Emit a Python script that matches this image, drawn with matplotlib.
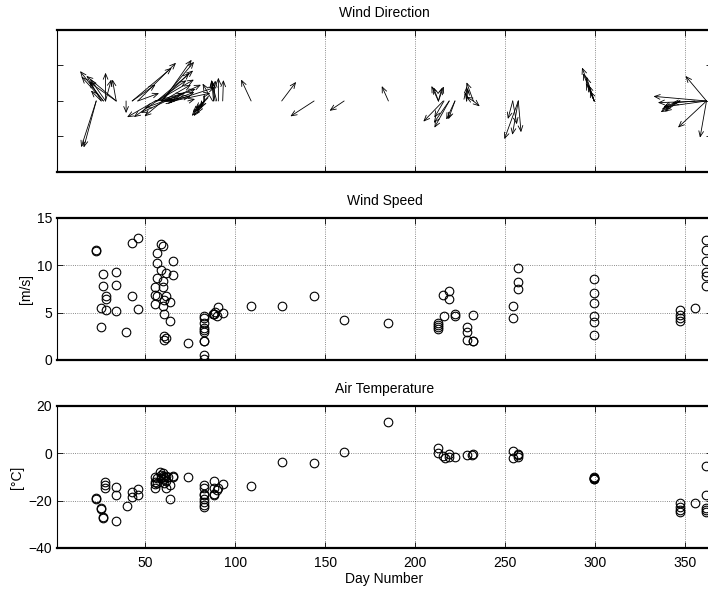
import numpy as np
import matplotlib
matplotlib.use('Agg')
import matplotlib.pyplot as plt

plt.rcParams['font.family'] = ['Liberation Sans', 'DejaVu Sans']
plt.rcParams['font.size'] = 10

#wind observations: day, speed [m/s], direction the arrow points [deg, 0 = up]
wind_day = [22.8, 22.8, 25.6, 25.6, 26.8, 26.8, 28.0, 28.0, 28.0, 33.9, 33.9, 33.9,
            39.4, 42.8, 42.8, 45.9, 45.9,
            55.6, 55.6, 55.6, 56.5, 56.5, 56.5, 56.5, 58.9, 58.9, 59.8, 59.8, 59.8, 59.8,
            60.6, 60.6, 60.6, 60.6, 61.5, 61.7, 61.7, 63.9, 63.9, 65.7, 65.7, 73.7,
            82.9, 82.9, 82.9, 82.9, 82.9, 82.9, 82.9, 82.9, 82.9, 82.9,
            87.5, 88.0, 88.0, 88.9, 89.8, 90.7, 93.1,
            108.9, 125.9, 143.9, 160.6, 185.2,
            213.0, 213.0, 213.0, 213.0, 215.7, 216.1, 219.0, 219.0, 222.2, 222.2,
            228.7, 228.7, 228.7, 232.4, 232.4, 232.4,
            254.3, 254.3, 257.4, 257.4, 257.4,
            299.6, 299.6, 299.6, 299.6, 299.6, 299.6,
            347.2, 347.2, 347.2, 347.2, 355.6,
            362.0, 362.0, 362.0, 362.0, 362.0, 362.0]
wind_speed = [11.5, 11.6, 5.5, 3.5, 9.05, 7.8, 6.75, 6.4, 5.3, 9.3, 7.9, 5.2,
              2.9, 12.3, 6.8, 12.9, 5.4,
              7.75, 6.85, 5.9, 11.3, 10.2, 8.6, 6.7, 12.2, 9.5, 12.0, 8.3, 7.75, 5.7,
              6.3, 4.9, 2.55, 2.1, 2.3, 9.15, 6.7, 6.15, 4.1, 10.45, 9.0, 1.8,
              4.65, 4.4, 3.9, 3.4, 3.2, 2.9, 1.95, 1.95, 0.55, 0.1,
              4.8, 4.9, 4.9, 5.1, 4.6, 5.55, 5.0,
              5.65, 5.7, 6.75, 4.2, 3.9,
              3.95, 3.7, 3.45, 3.25, 6.85, 4.6, 7.3, 6.4, 4.9, 4.65,
              3.45, 3.0, 2.1, 2.0, 2.0, 4.75,
              5.65, 4.45, 9.7, 8.2, 7.5,
              8.5, 7.1, 6.0, 4.65, 4.05, 2.65,
              5.3, 4.75, 4.4, 4.15, 5.5,
              12.7, 11.6, 10.4, 9.3, 8.9, 7.8]
wind_dir = [195, 198, 330, 315, 322, 318, 0, 325, 15, 310, 305, 350,
            180, 50, 55, 45, 70,
            240, 75, 85, 50, 60, 55, 235, 40, 45, 35, 70, 60, 230,
            80, 250, 90, 100, 80, 65, 245, 70, 60, 72, 78, 75,
            220, 215, 225, 210, 220, 230, 205, 215, 200, 200,
            330, 355, 5, 350, 345, 0, 2,
            335, 37, 237, 236, 336,
            335, 20, 340, 15, 224, 210, 209, 215, 205, 200,
            0, 5, 350, 300, 130, 340,
            170, 195, 200, 190, 175,
            340, 338, 342, 335, 340, 338,
            240, 245, 235, 250, 265,
            275, 268, 262, 227, 190, 320]

#air temperature observations
temp_day = [22.8, 22.8, 25.6, 25.6, 26.8, 26.8, 27.8, 27.8, 27.8, 33.9, 33.9, 33.9,
            39.8, 42.8, 42.8, 45.9, 45.9,
            55.6, 55.6, 55.6, 55.6, 56.5, 56.5, 58.3, 59.0, 59.0, 59.8, 59.8, 59.8,
            60.6, 60.6, 61.5, 61.5, 61.7, 62.5, 63.9, 63.9, 65.7, 65.7, 73.7,
            82.9, 82.9, 82.9, 82.9, 82.9, 82.9, 82.9, 82.9,
            88.0, 88.0, 88.0, 88.0, 89.8, 90.7, 93.1,
            108.9, 125.9, 143.9, 160.6, 185.2,
            213.0, 213.0, 215.7, 216.6, 219.0, 219.0, 222.2, 228.7, 231.5, 232.4,
            254.3, 254.3, 257.4, 257.4, 257.4,
            299.6, 299.6, 299.6, 299.6, 299.6,
            347.2, 347.2, 347.2, 347.2, 355.6,
            362.0, 362.0, 362.0, 362.0, 362.0]
temp = [-18.7, -19.4, -23.3, -23.7, -26.9, -27.2, -12.0, -13.4, -14.8, -14.2, -17.7, -28.6,
        -22.3, -16.5, -18.4, -15.1, -17.7,
        -9.9, -12.0, -13.0, -14.8, -10.6, -12.7, -7.8, -9.0, -10.5, -8.5, -11.0, -9.8,
        -10.2, -12.5, -9.5, -11.8, -14.8, -10.0, -19.1, -13.4, -9.6, -9.9, -9.9,
        -13.4, -14.8, -17.0, -17.7, -19.1, -20.5, -21.9, -22.6,
        -11.6, -14.8, -17.0, -17.7, -15.5, -14.8, -13.0,
        -13.7, -3.6, -4.0, 0.4, 13.4,
        2.1, 0.0, -1.2, -2.1, -0.4, -1.4, -1.7, -0.7, -0.7, -0.3,
        1.0, -1.8, -0.3, -1.4, -0.8,
        -10.0, -10.4, -10.8, -11.0, -10.6,
        -21.2, -22.5, -23.8, -24.8, -20.9,
        -5.4, -17.7, -23.3, -24.0, -24.8]

day_ticks = [50, 100, 150, 200, 250, 300, 350]

#arrow components, scaled so that 1 m/s is the same length on screen in x and y
rad = np.deg2rad(wind_dir)
u = np.array(wind_speed) * np.sin(rad) * 2.33
v = np.array(wind_speed) * np.cos(rad) * 0.118

fig = plt.figure(figsize=(7.08, 5.91), dpi=100)
ax1 = fig.add_axes([0.0805, 0.709, 0.925, 0.2403])
ax2 = fig.add_axes([0.0805, 0.391, 0.925, 0.2403])
ax3 = fig.add_axes([0.0805, 0.0728, 0.925, 0.2403])


def style(ax):
    ax.set_xlim(1, 365)
    ax.set_xticks(day_ticks)
    ax.tick_params(direction='in', length=4, width=0.6, top=True, right=True,
                   labelsize=10, colors='black')
    ax.tick_params(axis='x', pad=6)
    for side in ['top', 'bottom']:
        ax.spines[side].set_linewidth(1.6)
    for side in ['left', 'right']:
        ax.spines[side].set_linewidth(0.8)


#wind direction
for d, du, dv in zip(wind_day, u, v):
    ax1.annotate('', xy=(d + du, dv), xytext=(d, 0),
                 arrowprops=dict(arrowstyle='->,head_length=0.4,head_width=0.17',
                                 lw=0.6, color='black', shrinkA=0, shrinkB=0))
style(ax1)
ax1.set_ylim(-2, 2)
ax1.set_yticks([-1, 0, 1])
ax1.set_yticklabels([])
ax1.set_xticklabels([])
ax1.grid(axis='x', linestyle=':', color='black', lw=0.6, alpha=0.6)
ax1.set_title('Wind Direction', fontsize=10, pad=9)

#wind speed
ax2.plot(wind_day, wind_speed, 'o', mfc='none', mec='black', ms=6.2, mew=0.8)
style(ax2)
ax2.set_ylim(0, 15)
ax2.set_yticks([0, 5, 10, 15])
ax2.set_xticklabels([])
ax2.grid(linestyle=':', color='black', lw=0.6, alpha=0.6)
ax2.set_ylabel('[m/s]', labelpad=3)
ax2.set_title('Wind Speed', fontsize=10, pad=9)

#air temperature
ax3.plot(temp_day, temp, 'o', mfc='none', mec='black', ms=6.2, mew=0.8)
style(ax3)
ax3.set_ylim(-40, 20)
ax3.set_yticks([-40, -20, 0, 20])
ax3.grid(linestyle=':', color='black', lw=0.6, alpha=0.6)
ax3.set_ylabel('[°C]', labelpad=3)
ax3.set_xlabel('Day Number', labelpad=1)
ax3.set_title('Air Temperature', fontsize=10, pad=9)

fig.savefig('out.png', dpi=100)
